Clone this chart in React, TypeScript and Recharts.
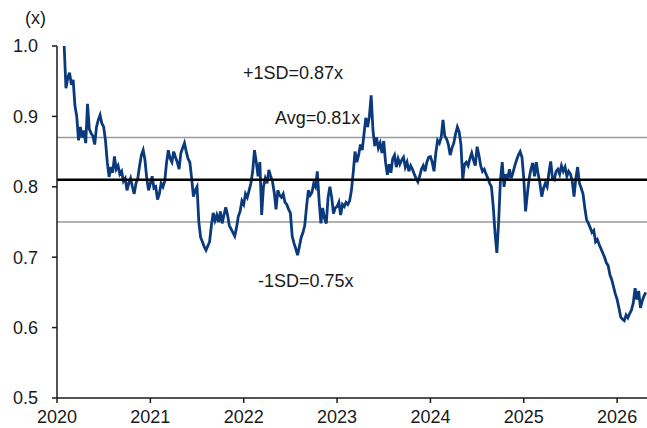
import { LineChart, Line, XAxis, YAxis, ReferenceLine } from "recharts";

// P/B ratio (x), weekly readings; each year's list starts at the given week
const ratio2020 = [
    1.0, 0.94, 0.955, 0.962, 0.945, 0.952, 0.915, 0.9, 0.866, 0.885, 0.87, 0.88,
    0.862, 0.918, 0.882, 0.876, 0.872, 0.86, 0.885, 0.895, 0.902, 0.89, 0.885,
    0.866, 0.835, 0.814, 0.828, 0.82, 0.843, 0.825, 0.83, 0.818, 0.822, 0.808,
    0.812, 0.795, 0.805, 0.812, 0.8, 0.79, 0.805, 0.812, 0.83, 0.845, 0.852,
    0.838, 0.812, 0.795,
];
const ratio2021 = [
    0.805, 0.815, 0.798, 0.8, 0.782, 0.79, 0.805, 0.8, 0.808, 0.834, 0.852, 0.84,
    0.835, 0.85, 0.842, 0.835, 0.825, 0.848, 0.855, 0.862, 0.85, 0.84, 0.835,
    0.812, 0.786, 0.795, 0.8, 0.75, 0.728, 0.722, 0.715, 0.71, 0.716, 0.722,
    0.745, 0.763, 0.752, 0.76, 0.75, 0.765, 0.748, 0.76, 0.771, 0.76, 0.745,
    0.74, 0.735, 0.73, 0.742, 0.758, 0.765, 0.78,
];
const ratio2022 = [
    0.775, 0.79, 0.785, 0.795, 0.805, 0.822, 0.852, 0.835, 0.815, 0.835, 0.76,
    0.8, 0.812, 0.805, 0.824, 0.815, 0.808, 0.792, 0.768, 0.795, 0.788, 0.785,
    0.79, 0.778, 0.775, 0.768, 0.763, 0.73, 0.72, 0.712, 0.703, 0.715, 0.728,
    0.735, 0.745, 0.772, 0.795, 0.788, 0.792, 0.805, 0.8, 0.822, 0.78, 0.748,
    0.77, 0.755, 0.748, 0.785, 0.8, 0.785, 0.762, 0.77,
];
const ratio2023 = [
    0.772, 0.778, 0.76, 0.775, 0.772, 0.778, 0.775, 0.78, 0.795, 0.82, 0.85,
    0.835, 0.845, 0.86, 0.852, 0.875, 0.898, 0.885, 0.9, 0.93, 0.88, 0.858, 0.87,
    0.855, 0.862, 0.848, 0.865, 0.835, 0.817, 0.832, 0.82, 0.84, 0.845, 0.828,
    0.84, 0.832, 0.838, 0.842, 0.828, 0.835, 0.822, 0.83, 0.825, 0.818, 0.812,
    0.807, 0.815, 0.825, 0.83, 0.822, 0.835, 0.842,
];
const ratio2024 = [
    0.843, 0.835, 0.822, 0.848, 0.866, 0.862, 0.87, 0.895, 0.872, 0.868, 0.86,
    0.845, 0.855, 0.862, 0.875, 0.885, 0.878, 0.86, 0.81, 0.832, 0.835, 0.83,
    0.84, 0.848, 0.838, 0.83, 0.857, 0.845, 0.83, 0.822, 0.825, 0.818, 0.812,
    0.805, 0.8, 0.772, 0.734, 0.706, 0.75, 0.81, 0.835, 0.8, 0.818, 0.81, 0.825,
    0.812, 0.82, 0.83, 0.838, 0.845, 0.85, 0.842,
];
const ratio2025 = [
    0.812, 0.765, 0.79, 0.812, 0.825, 0.834, 0.815, 0.835, 0.818, 0.805, 0.786,
    0.798, 0.805, 0.8, 0.82, 0.836, 0.812, 0.81, 0.822, 0.825, 0.818, 0.83,
    0.822, 0.828, 0.815, 0.822, 0.818, 0.808, 0.786, 0.812, 0.828, 0.805, 0.798,
    0.79, 0.77, 0.753, 0.748, 0.742, 0.735, 0.738, 0.722, 0.725, 0.718, 0.712,
    0.706, 0.7, 0.692, 0.688, 0.675, 0.668, 0.658, 0.648,
];
const ratio2026 = [
    0.64, 0.628, 0.615, 0.612, 0.61, 0.618, 0.614, 0.62, 0.625, 0.635, 0.656,
    0.64, 0.652, 0.628, 0.638, 0.645, 0.65,
];

const years = [
    { year: 2020, firstWeek: 4, values: ratio2020 },
    { year: 2021, firstWeek: 0, values: ratio2021 },
    { year: 2022, firstWeek: 0, values: ratio2022 },
    { year: 2023, firstWeek: 0, values: ratio2023 },
    { year: 2024, firstWeek: 0, values: ratio2024 },
    { year: 2025, firstWeek: 0, values: ratio2025 },
    { year: 2026, firstWeek: 0, values: ratio2026 },
];

const xTicks = [2020, 2021, 2022, 2023, 2024, 2025, 2026];
const yTicks = [0.5, 0.6, 0.7, 0.8, 0.9, 1.0];

const avg = 0.81;
const plusSd = 0.87;
const minusSd = 0.75;

const data = years.flatMap((y) =>
    y.values.map((v, i) => ({ t: y.year + (y.firstWeek + i) / 52, v })),
);

const font = '"Liberation Sans", Arial, sans-serif';
const ink = "#1a1a1a";

const labelStyle = (left: number, top: number): React.CSSProperties => ({
    position: "absolute",
    left,
    top,
    fontSize: 18,
    lineHeight: "18px",
    fontFamily: font,
    color: ink,
    whiteSpace: "nowrap",
});

export default function App() {
    return (
        <div
            style={{
                position: "absolute",
                left: 0,
                top: 0,
                width: 647,
                height: 428,
                background: "#fff",
            }}
        >
            <LineChart
                width={647}
                height={428}
                data={data}
                margin={{ top: 46, right: 0, bottom: 0, left: 0 }}
            >
                <XAxis
                    dataKey="t"
                    type="number"
                    domain={[2020, 2026.32]}
                    ticks={xTicks}
                    allowDataOverflow
                    height={30}
                    tickSize={5}
                    tickMargin={7}
                    stroke={ink}
                    strokeWidth={1.5}
                    tick={{ fill: ink, fontSize: 18, fontFamily: font }}
                />
                <YAxis
                    type="number"
                    domain={[0.5, 1.0]}
                    ticks={yTicks}
                    width={57}
                    tickSize={5}
                    tickMargin={14}
                    stroke={ink}
                    strokeWidth={1.5}
                    tickFormatter={(v: number) => v.toFixed(1)}
                    tick={{ fill: ink, fontSize: 18, fontFamily: font }}
                />
                <ReferenceLine y={plusSd} stroke="#9a9a9a" strokeWidth={1.5} />
                <ReferenceLine y={minusSd} stroke="#9a9a9a" strokeWidth={1.5} />
                <Line
                    type="linear"
                    dataKey="v"
                    stroke="#0b3a7c"
                    strokeWidth={2.8}
                    dot={false}
                    isAnimationActive={false}
                />
                <ReferenceLine y={avg} stroke="#000" strokeWidth={2.5} />
            </LineChart>
            <div style={labelStyle(25, 9)}>(x)</div>
            <div style={labelStyle(243, 64)}>+1SD=0.87x</div>
            <div style={labelStyle(275, 109)}>Avg=0.81x</div>
            <div style={labelStyle(258, 272)}>-1SD=0.75x</div>
        </div>
    );
}
